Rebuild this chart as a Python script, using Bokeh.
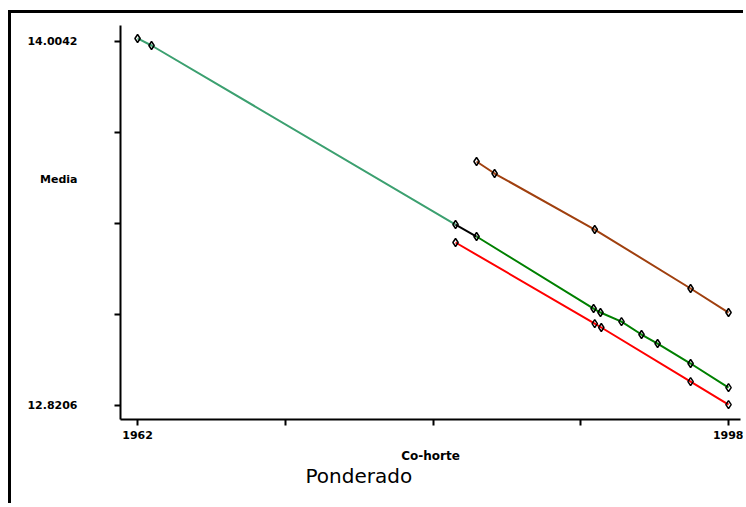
from bokeh.plotting import figure
from bokeh.embed import file_html
from bokeh.resources import INLINE
from bokeh.models import FixedTicker, Range1d, LinearAxis, Title

# Data
teal_x = [1962.0, 1962.85, 1981.37]
teal_y = [14.0140, 13.9912, 13.4091]
black_x = [1981.37, 1982.65]
black_y = [13.4091, 13.3701]
green_x = [1982.65, 1989.78, 1990.20, 1991.48, 1992.70, 1993.68, 1995.69, 1998.0]
green_y = [13.3701, 13.1359, 13.1229, 13.0936, 13.0514, 13.0221, 12.9571, 12.8790]
red_x = [1981.37, 1989.85, 1990.25, 1995.69, 1998.0]
red_y = [13.3506, 13.0871, 13.0742, 12.8985, 12.8237]
brown_x = [1982.65, 1983.75, 1989.85, 1995.69, 1998.0]
brown_y = [13.6140, 13.5749, 13.3928, 13.2010, 13.1229]

x_ticks = [1962, 1971, 1980, 1989, 1998]
x_labels = {1962: "1962", 1971: "", 1980: "", 1989: "", 1998: "1998"}
y_ticks = [12.8206, 13.1165, 13.4124, 13.7083, 14.0042]
y_label_ticks = [12.8206, 13.5554, 14.0042]
y_labels = {12.8206: "12.8206", 13.5554: "Media", 14.0042: "14.0042"}

p = figure(width=735, height=493, output_backend="svg", toolbar_location=None,
           x_range=Range1d(1960.96, 1998.73), y_range=Range1d(12.7751, 14.0562),
           min_border_left=109, min_border_right=6, min_border_top=12, min_border_bottom=87)
p.styles = {"border-left": "3px solid black", "border-top": "3px solid black",
            "margin-left": "8px", "margin-top": "10px"}
p.outline_line_color = None
p.grid.visible = False

for ax in (p.xaxis[0], p.yaxis[0]):
    ax.axis_line_width = 2
    ax.major_tick_line_width = 2
    ax.minor_tick_line_color = None
    ax.major_tick_in = 0
    ax.major_tick_out = 6
    ax.major_label_text_font = "DejaVu Sans"
    ax.major_label_text_font_size = "11px"
    ax.major_label_text_font_style = "bold"
    ax.major_label_text_color = "black"

p.xaxis.ticker = FixedTicker(ticks=x_ticks)
p.xaxis.major_label_overrides = x_labels
p.xaxis.axis_label = "Co-horte"
p.xaxis.axis_label_text_font = "DejaVu Sans"
p.xaxis.axis_label_text_font_size = "12px"
p.xaxis.axis_label_text_font_style = "bold"
p.xaxis.axis_label_text_color = "black"
p.xaxis.axis_label_standoff = 7

p.yaxis.ticker = FixedTicker(ticks=y_ticks)
p.yaxis.major_label_overrides = {t: "" for t in y_ticks}
p.yaxis.major_label_standoff = 0

lab_axis = LinearAxis(ticker=FixedTicker(ticks=y_label_ticks), major_label_overrides=y_labels,
                      axis_line_color=None, major_tick_line_color=None, minor_tick_line_color=None,
                      major_tick_in=0, major_tick_out=0, major_label_standoff=37,
                      major_label_text_font="DejaVu Sans", major_label_text_font_size="11px",
                      major_label_text_font_style="bold", major_label_text_color="black")
p.add_layout(lab_axis, "left")

p.line(teal_x, teal_y, line_color="#3CA070", line_width=2)
p.line(black_x, black_y, line_color="black", line_width=2)
p.line(green_x, green_y, line_color="#008000", line_width=2)
p.line(red_x, red_y, line_color="#FF0000", line_width=2)
p.line(brown_x, brown_y, line_color="#A0400F", line_width=2)

for xs, ys in ((teal_x, teal_y), (green_x, green_y), (red_x, red_y), (brown_x, brown_y)):
    p.scatter(xs, ys, marker="diamond", size=8, fill_color=None, line_color="black", line_width=1.5)

p.add_layout(Title(text="Ponderado", align="left", offset=185, text_font="DejaVu Sans",
                   text_font_size="20px", text_font_style="normal", text_color="black",
                   standoff=-7), "below")

open("out.html", "w").write(file_html(p, INLINE))
